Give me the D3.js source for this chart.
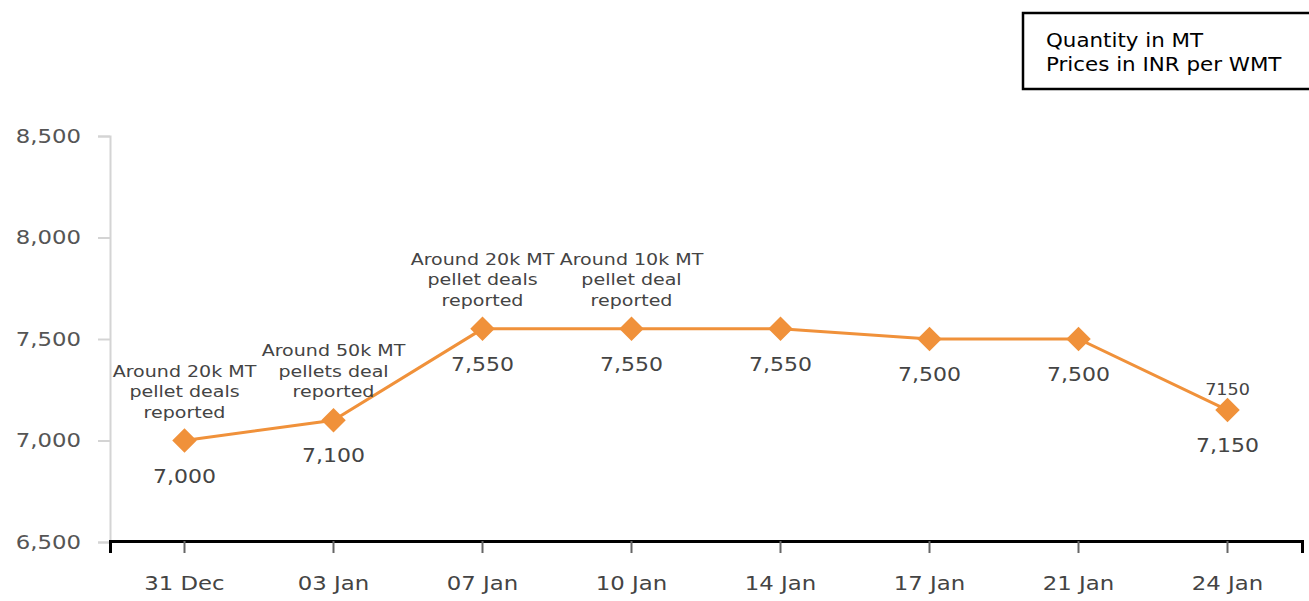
<!DOCTYPE html>
<html>
<head>
<meta charset="utf-8">
<script src="https://cdn.jsdelivr.net/npm/d3@7"></script>
<style>
body { margin: 0; background: #fff; }
text { font-family: "DejaVu Sans", Verdana, sans-serif; }
</style>
</head>
<body>
<script>
var dates = ["31 Dec", "03 Jan", "07 Jan", "10 Jan", "14 Jan", "17 Jan", "21 Jan", "24 Jan"];
var prices = [7000, 7100, 7550, 7550, 7550, 7500, 7500, 7150];
var notes = [
  ["Around 20k MT", "pellet deals", "reported"],
  ["Around 50k MT", "pellets deal", "reported"],
  ["Around 20k MT", "pellet deals", "reported"],
  ["Around 10k MT", "pellet deal", "reported"],
  [], [], [],
  ["7150"]
];
var yTicks = [6500, 7000, 7500, 8000, 8500];
var legendLines = ["Quantity in MT", "Prices in INR per WMT"];

var w = 1309, h = 601;
var orange = "#f0913a";
var stretch = 1.2; // the picture's text is a little wide

var svg = d3.select("body").append("svg")
    .attr("width", w)
    .attr("height", h);

var x = d3.scaleBand().domain(dates).range([110, 1302]);
var y = d3.scaleLinear().domain([6500, 8500]).range([542, 136]);

// y axis
var yAxis = svg.append("g")
    .attr("transform", "translate(110,0)")
    .call(d3.axisLeft(y).tickValues(yTicks).tickSize(12).tickFormat(d3.format(",")));
yAxis.select(".domain").attr("stroke", "#d4d4d4").attr("stroke-width", 2);
yAxis.selectAll(".tick line").attr("stroke", "#d4d4d4").attr("stroke-width", 2);
yAxis.selectAll(".tick text")
    .attr("x", -29 / stretch)
    .attr("transform", "scale(" + stretch + ",1)")
    .attr("fill", "#555").style("font-size", "19px");

// x axis
var xAxis = svg.append("g")
    .attr("transform", "translate(0,541)")
    .call(d3.axisBottom(x).tickSizeOuter(0).tickSize(12).tickPadding(24));
xAxis.select(".domain").attr("stroke", "#000").attr("stroke-width", 3);
xAxis.selectAll(".tick line").attr("stroke", "#666").attr("stroke-width", 2);
xAxis.selectAll(".tick text")
    .attr("transform", "scale(" + stretch + ",1)")
    .attr("fill", "#444").style("font-size", "19px");

var cx = function(d, i) { return x(dates[i]) + x.bandwidth() / 2; };

var line = d3.line()
    .x(function(d, i) { return cx(d, i); })
    .y(function(d) { return y(d); });

svg.append("path")
    .datum(prices)
    .attr("d", line)
    .attr("fill", "none")
    .attr("stroke", orange)
    .attr("stroke-width", 3);

svg.selectAll("path.pt").data(prices).enter().append("path")
    .attr("class", "pt")
    .attr("d", d3.symbol().type(d3.symbolSquare).size(300))
    .attr("transform", function(d, i) { return "translate(" + cx(d, i) + "," + y(d) + ") rotate(45)"; })
    .attr("fill", orange);

// value labels
svg.selectAll("text.val").data(prices).enter().append("text")
    .attr("class", "val")
    .attr("transform", function(d, i) { return "translate(" + cx(d, i) + "," + (y(d) + 42) + ") scale(1.1,1)"; })
    .attr("text-anchor", "middle")
    .attr("fill", "#444")
    .style("font-size", "20px")
    .text(d3.format(","));

// annotations
svg.selectAll("g.note").data(notes).enter().append("g")
    .attr("class", "note")
    .each(function(lines, i) {
        var g = d3.select(this);
        var n = lines.length;
        var short = n == 1;
        lines.forEach(function(t, k) {
            var ty = y(prices[i]) - (short ? 15 : 23) - (n - 1 - k) * 20.5;
            g.append("text")
                .attr("transform", "translate(" + cx(null, i) + "," + ty + ") scale(" + (short ? 1.1 : 1.27) + ",1)")
                .attr("text-anchor", "middle")
                .attr("fill", "#444")
                .style("font-size", short ? "16px" : "15px")
                .text(t);
        });
    });

// legend box
var lg = svg.append("g");
lg.append("rect")
    .attr("x", 1023).attr("y", 13)
    .attr("width", 300).attr("height", 76)
    .attr("fill", "#fff").attr("stroke", "#000").attr("stroke-width", 2.5);
lg.selectAll("text").data(legendLines).enter().append("text")
    .attr("transform", function(d, i) { return "translate(1046," + (47 + i * 24) + ") scale(1.07,1)"; })
    .attr("fill", "#000")
    .style("font-size", "20px")
    .text(function(d) { return d; });
</script>
</body>
</html>
